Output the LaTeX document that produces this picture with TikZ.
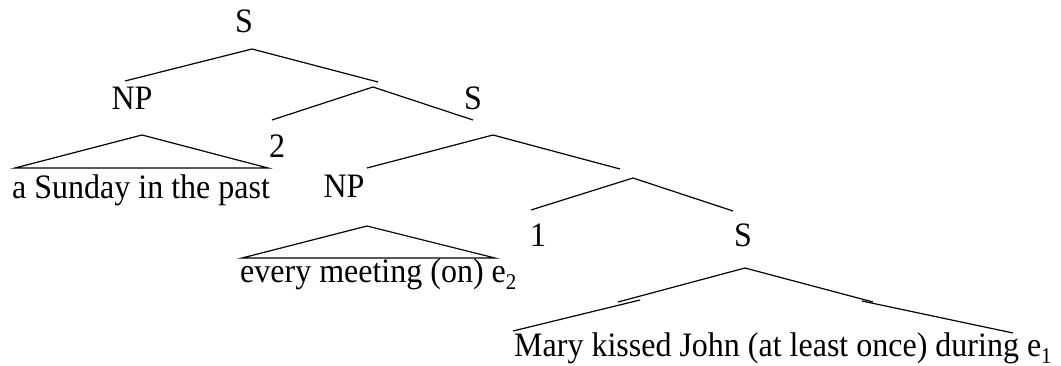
\documentclass[tikz,border=0pt]{standalone}
\usepackage{fontspec}
\setmainfont{Liberation Serif}
\newcommand{\tx}[1]{\scalebox{1}[1.07]{#1}}
\newcommand{\subs}[1]{\raisebox{-6.5pt}{\fontsize{21}{21}\selectfont #1}}
\tikzset{
  lbl/.style={anchor=base, inner sep=0pt, font=\fontsize{32}{38}\selectfont},
  lblw/.style={anchor=base west, inner sep=0pt, font=\fontsize{32}{38}\selectfont},
  edge/.style={line width=1.2pt, black}
}
\begin{document}
\begin{tikzpicture}[x=1pt,y=-1pt]
\useasboundingbox (0,0) rectangle (1061,366);
% labels
\node[lbl] (s0) at (244,33) {\tx{S}};
\node[lbl] (np1) at (132,110) {\tx{NP}};
\node[lbl] (s1) at (473,110) {\tx{S}};
\node[lbl] (two) at (277,158) {\tx{2}};
\node[lblw] (sunday) at (12,199) {\tx{a Sunday in the past}};
\node[lbl] (np2) at (344,198) {\tx{NP}};
\node[lbl] (one) at (538,247) {\tx{1}};
\node[lbl] (s2) at (743,247) {\tx{S}};
\node[lblw] (every) at (240,283) {\tx{every meeting (on) e\subs{2}}};
\node[lblw] (mary) at (514,356.5) {\tx{Mary kissed John (at least once) during e\subs{1}}};
% line coordinates
\coordinate (a0) at (252,49);
\coordinate (a0l) at (125,81);
\coordinate (a0r) at (378,82);
\coordinate (a1) at (373,87);
\coordinate (a1l) at (272,120);
\coordinate (a1r) at (473,120);
\coordinate (t1) at (142,135);
\coordinate (t1l) at (15,168);
\coordinate (t1r) at (268,168);
\coordinate (a2) at (493,135);
\coordinate (a2l) at (367,168);
\coordinate (a2r) at (620,169);
\coordinate (a3) at (633,178);
\coordinate (a3l) at (531,210);
\coordinate (a3r) at (733,211);
\coordinate (t2) at (367,226);
\coordinate (t2l) at (242,258);
\coordinate (t2r) at (495,258);
\coordinate (t3) at (745,268);
\coordinate (t3lu) at (618,302);
\coordinate (t3lm) at (640,300);
\coordinate (t3l) at (513,331);
\coordinate (t3ru) at (873,302);
\coordinate (t3rm) at (862,301);
\coordinate (t3r) at (1013,333);
% connectors
\draw[edge] (a0l) -- (a0) -- (a0r);
\draw[edge] (a1l) -- (a1) -- (a1r);
\draw[edge] (t1l) -- (t1) -- (t1r) -- cycle;
\draw[edge] (a2l) -- (a2) -- (a2r);
\draw[edge] (a3l) -- (a3) -- (a3r);
\draw[edge] (t2l) -- (t2) -- (t2r) -- cycle;
\draw[edge] (t3lu) -- (t3) -- (t3ru);
\draw[edge] (t3lm) -- (t3l);
\draw[edge] (t3rm) -- (t3r);
\end{tikzpicture}
\end{document}
